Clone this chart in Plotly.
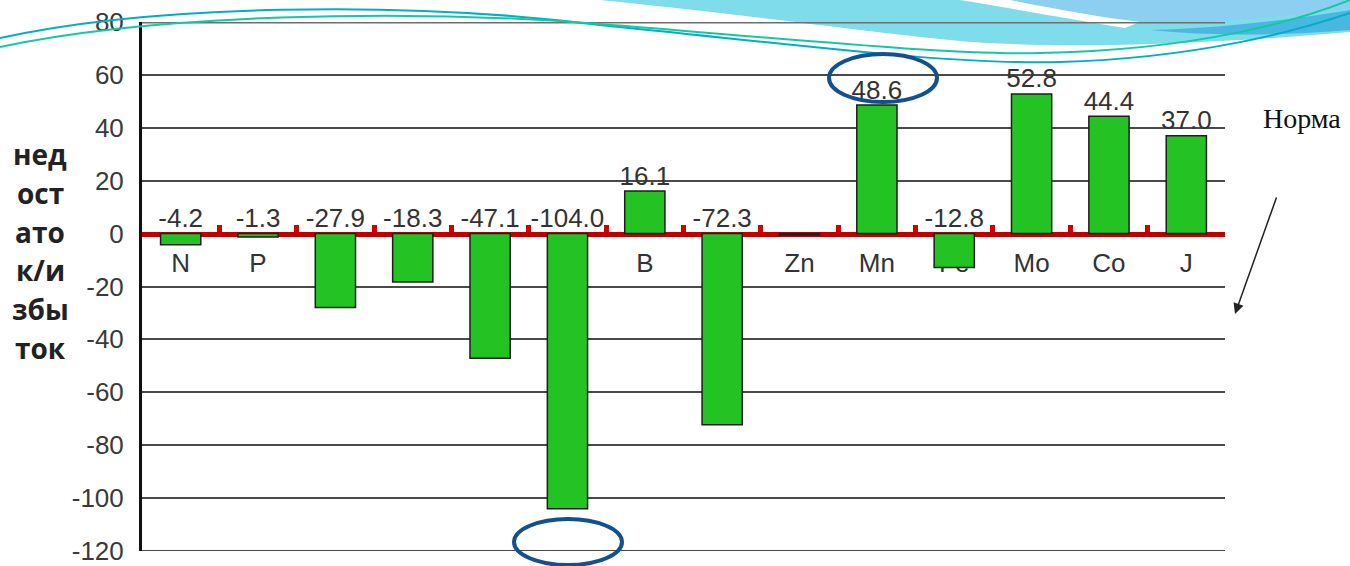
import re
import plotly.graph_objects as go

# ---------------- data ----------------
categories = ["N", "P", "K", "Ca", "Mg", "S", "B", "Cu", "Zn", "Mn", "Fe", "Mo", "Co", "J"]
values = [-4.2, -1.3, -27.9, -18.3, -47.1, -104.0, 16.1, -72.3, -0.5, 48.6, -12.8, 52.8, 44.4, 37.0]
value_labels = ["-4.2", "-1.3", "-27.9", "-18.3", "-47.1", "-104.0", "16.1", "-72.3", "",
                "48.6", "-12.8", "52.8", "44.4", "37.0"]
y_ticks = [80, 60, 40, 20, 0, -20, -40, -60, -80, -100, -120]
y_title_lines = ["нед", "ост", "ато", "к/и", "збы", "ток"]
norm_label = "Норма"

Y_MIN, Y_MAX = -120, 80
EPS = 0.02

# plot area in pixels
W, H = 1350, 566
L, R, T, B = 142, 1225, 22, 551


def px(x):
    return (x - L) / (R - L)


def py(y):
    return (B - y) / (B - T)


def path_px(s):
    def rep(m):
        return "%.5f,%.5f" % (px(float(m.group(1))), py(float(m.group(2))))
    return re.sub(r"(-?\d+(?:\.\d+)?),(-?\d+(?:\.\d+)?)", rep, s)


fig = go.Figure()

fig.add_trace(go.Bar(
    x=categories, y=values, width=0.52,
    marker=dict(color="#22c322", line=dict(color="#1e1e1e", width=1.5)),
    hoverinfo="x+y", showlegend=False,
))

fig.add_trace(go.Scatter(
    x=categories, y=[max(v, 0) for v in values], text=value_labels,
    mode="text", textposition="top center",
    textfont=dict(family="Liberation Sans, Arial", size=26, color="#333333"),
    showlegend=False, hoverinfo="skip",
))

zero_pos = (0 - (Y_MIN - EPS)) / ((Y_MAX + EPS) - (Y_MIN - EPS))

fig.update_layout(
    width=W, height=H,
    margin=dict(l=L, r=W - R, t=T, b=H - B, pad=0, autoexpand=False),
    paper_bgcolor="white", plot_bgcolor="white",
    showlegend=False,
    xaxis=dict(
        type="category", anchor="free", position=zero_pos, side="bottom",
        showline=True, linecolor="#c00000", linewidth=5,
        ticks="inside", tickson="boundaries", ticklen=7, tickwidth=5, tickcolor="#d00000",
        showgrid=False, zeroline=False, layer="below traces", automargin=False,
        ticklabelstandoff=4,
        tickfont=dict(family="Liberation Sans, Arial", size=26, color="#333333"),
        range=[-0.5, len(categories) - 0.5],
    ),
    yaxis=dict(
        range=[Y_MIN - EPS, Y_MAX + EPS], tickvals=y_ticks, ticktext=[str(v) for v in y_ticks],
        showline=True, linecolor="#111111", linewidth=3, automargin=False,
        showgrid=True, gridcolor="#4a4a4a", gridwidth=1.5,
        zeroline=False, ticks="", ticklabelstandoff=10, ticklabeloverflow="allow",
        tickfont=dict(family="Liberation Sans, Arial", size=26, color="#3a3a3a"),
    ),
    bargap=0.48,
)

shapes = []
# decorative slide swooshes (top right)
shapes.append(dict(type="path", xref="paper", yref="paper", layer="below",
                   path=path_px("M 600,0 C 750,15 850,30 950,40 C 1050,50 1200,45 1350,32 L 1350,0 Z"),
                   fillcolor="#7fdcea", line=dict(width=0)))
shapes.append(dict(type="path", xref="paper", yref="paper", layer="below",
                   path=path_px("M 1010,0 L 1350,0 L 1350,8 C 1280,18 1200,24 1140,22 C 1100,17 1050,8 1010,0 Z"),
                   fillcolor="#8ccff0", line=dict(width=0)))
shapes.append(dict(type="path", xref="paper", yref="paper", layer="below",
                   path=path_px("M 960,0 L 1010,0 C 1050,8 1100,17 1140,22 L 1125,28 C 1075,20 1015,9 960,0 Z"),
                   fillcolor="white", line=dict(width=0)))
shapes.append(dict(type="path", xref="paper", yref="paper", layer="below",
                   path=path_px("M 1150,30 C 1230,28 1300,18 1350,10 L 1350,30 C 1280,36 1210,36 1150,30 Z"),
                   fillcolor="#48b8e2", line=dict(width=0)))
# frame lines at the ends of the value range
shapes.append(dict(type="line", xref="paper", yref="y", layer="below",
                   x0=0, x1=1, y0=Y_MAX, y1=Y_MAX, line=dict(color="#6e6e6e", width=3)))
shapes.append(dict(type="line", xref="paper", yref="y", layer="below",
                   x0=0, x1=1, y0=Y_MIN, y1=Y_MIN, line=dict(color="#4a4a4a", width=2)))
shapes.append(dict(type="path", xref="paper", yref="paper", layer="above",
                   path=path_px("M 0,38 C 150,5 400,0 600,25 C 800,45 950,65 1060,62 C 1200,58 1300,30 1350,13"),
                   line=dict(color="#00aec6", width=2)))
shapes.append(dict(type="path", xref="paper", yref="paper", layer="above",
                   path=path_px("M 0,47 C 150,15 400,8 600,24 C 800,40 950,55 1040,53 C 1200,50 1300,20 1350,0"),
                   line=dict(color="#12c9a2", width=2)))
# highlight ellipses
shapes.append(dict(type="circle", xref="paper", yref="paper", layer="above",
                   x0=px(829), x1=px(937), y0=py(102), y1=py(54),
                   line=dict(color="#13508f", width=4)))
shapes.append(dict(type="circle", xref="paper", yref="paper", layer="above",
                   x0=px(514), x1=px(622), y0=py(565), y1=py(519),
                   line=dict(color="#13508f", width=4)))
fig.update_layout(shapes=shapes)

annotations = []
for i, s in enumerate(y_title_lines):
    annotations.append(dict(
        xref="paper", yref="paper", x=px(40), y=py(154 + i * 38.8),
        xanchor="center", yanchor="middle", text="<b>%s</b>" % s, showarrow=False,
        font=dict(family="Open Sans", size=28, color="#222222")))
annotations += [
    dict(xref="paper", yref="paper", x=px(1302), y=py(119), xanchor="center", yanchor="middle",
         text=norm_label, showarrow=False,
         font=dict(family="Liberation Serif, Times New Roman", size=28, color="#111111")),
    dict(xref="paper", yref="paper", x=px(1235), y=py(314), text="", showarrow=True,
         axref="pixel", ayref="pixel", ax=42, ay=-118,
         arrowhead=2, arrowsize=1.4, arrowwidth=1.5, arrowcolor="#222222"),
]
fig.update_layout(annotations=annotations)

fig.write_html("out.html")
